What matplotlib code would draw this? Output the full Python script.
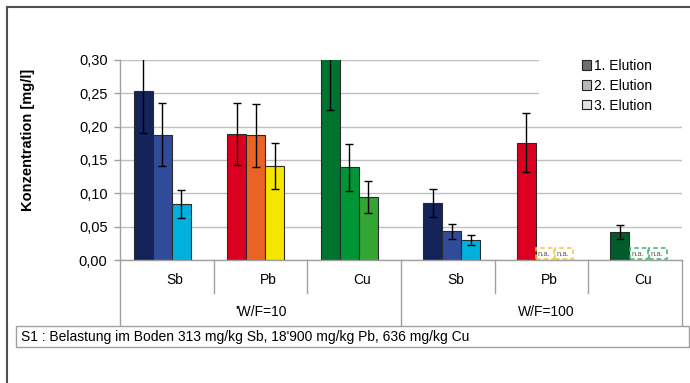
import numpy as np
import matplotlib
matplotlib.use("Agg")
import matplotlib.pyplot as plt
from matplotlib.patches import Rectangle, Patch
from matplotlib.lines import Line2D

plt.rcParams['font.family'] = ['Liberation Sans', 'DejaVu Sans']

# ---- data ----
categories = ["Sb", "Pb", "Cu", "Sb", "Pb", "Cu"]
groups = ["'W/F=10", "W/F=100"]
series = ["1. Elution", "2. Elution", "3. Elution"]
elution1 = [0.254, 0.189, 0.31, 0.085, 0.176, 0.042]
elution2 = [0.188, 0.187, 0.139, 0.043, np.nan, np.nan]
elution3 = [0.0835, 0.141, 0.095, 0.030, np.nan, np.nan]
err1 = [0.064, 0.047, 0.085, 0.021, 0.0445, 0.011]
err2 = [0.047, 0.047, 0.035, 0.011, np.nan, np.nan]
err3 = [0.021, 0.035, 0.024, 0.008, np.nan, np.nan]
yticks = [0.00, 0.05, 0.10, 0.15, 0.20, 0.25, 0.30]
ytick_labels = ["0,00", "0,05", "0,10", "0,15", "0,20", "0,25", "0,30"]
note = "S1 : Belastung im Boden 313 mg/kg Sb, 18'900 mg/kg Pb, 636 mg/kg Cu"

# ---- styles ----
colors1 = ['#142359', '#db0020', '#00742f', '#142359', '#db0020', '#005c2b']
colors2 = ['#2f4b99', '#e96424', '#009537', '#2f4b99', '#f5c342', '#3cb371']
colors3 = ['#00b0df', '#f5e600', '#33a532', '#00b0df', '#f5c342', '#3cb371']
legend_colors = ['#707070', '#b8b8b8', '#e2e2e2']
group_shift = [-0.05, -0.05, -0.05, 0.04, 0.04, 0.04]
na_height = 0.0165

W, H = 690, 383
fig = plt.figure(figsize=(W / 100, H / 100), dpi=100)
L, R, T, B = 120, 682, 60, 260
ax = fig.add_axes([L / W, 1 - B / H, (R - L) / W, (B - T) / H])

n = len(categories)
x = np.arange(n)
bw = 0.203
values = [elution1, elution2, elution3]
errs = [err1, err2, err3]
cols = [colors1, colors2, colors3]

for j in range(3):
    pos = x + np.array(group_shift) + (j - 1) * bw
    v = np.array(values[j], dtype=float)
    e = np.array(errs[j], dtype=float)
    ok = ~np.isnan(v)
    ax.bar(pos[ok], v[ok], width=bw, color=[cols[j][i] for i in range(n) if ok[i]],
           edgecolor='#2a2a2a', linewidth=0.8, zorder=2)
    ax.errorbar(pos[ok], v[ok], yerr=e[ok], fmt='none', ecolor='black',
                elinewidth=1, capsize=3, capthick=1, zorder=3)
    # n.a. placeholders
    for i in np.where(~ok)[0]:
        ax.add_patch(Rectangle((pos[i] - bw / 2 + 0.005, 0.0008), bw - 0.01, na_height,
                               fill=False, edgecolor=cols[j][i], linestyle=(0, (3, 2)),
                               linewidth=1.1, zorder=2))
        ax.text(pos[i] - bw / 2 + 0.02, 0.003, "n.a.", fontsize=5.5, color='#555555',
                ha='left', va='bottom', zorder=3)

ax.set_xlim(-0.5, n - 0.5)
ax.set_ylim(0, 0.30)
ax.set_yticks(yticks)
ax.set_yticklabels(ytick_labels)
ax.set_xticks([])
ax.tick_params(axis='y', length=4, width=1, color='#a0a0a0', pad=5, labelsize=10.5)
ax.set_axisbelow(True)
ax.yaxis.grid(True, color='#c0c0c0', linewidth=1)
for s in ['top', 'right']:
    ax.spines[s].set_visible(False)
for s in ['left', 'bottom']:
    ax.spines[s].set_color('#a0a0a0')
    ax.spines[s].set_linewidth(1)

# legend background
ax.add_patch(Rectangle(((539 - L) / (R - L), 0.72), 1 - (539 - L) / (R - L) + 0.01, 0.35,
                       transform=ax.transAxes, facecolor='white', edgecolor='none',
                       zorder=1, clip_on=False))
handles = [Patch(facecolor=c, edgecolor='#222222', linewidth=0.8) for c in legend_colors]
ax.legend(handles, series, loc='upper left', bbox_to_anchor=(575 / W, 1 - 52 / H),
          bbox_transform=fig.transFigure, frameon=False, fontsize=10,
          handlelength=0.65, handleheight=0.65, handletextpad=0.25,
          labelspacing=0.42, borderpad=0)

# category axis
xt = ax.get_xaxis_transform()
sep_short = -(293 - B) / (B - T)
sep_long = -(326 - B) / (B - T)
for k in range(n + 1):
    ybot = sep_long if k in (0, 3, 6) else sep_short
    ax.plot([k - 0.5, k - 0.5], [0, ybot], transform=xt, color='#a0a0a0',
            linewidth=1, clip_on=False)
for i, c in enumerate(categories):
    ax.text(i + 0.085, -20 / (B - T), c, transform=xt, ha='center', va='center',
            fontsize=10)
for g, lab in enumerate(groups):
    ax.text(3 * g + 1 + 0.05 * g, -52 / (B - T), lab, transform=xt, ha='center',
            va='center', fontsize=10)

fig.text(28 / W, 1 - 140 / H, "Konzentration [mg/l]", rotation=90, ha='center',
         va='center', fontsize=10.5, fontweight='bold')

# note box
fig.add_artist(Rectangle((16 / W, 1 - 347 / H), (689 - 16) / W, 21 / H,
                         transform=fig.transFigure, facecolor='white',
                         edgecolor='#a0a0a0', linewidth=1))
fig.text(21 / W, 1 - 337 / H, note, ha='left', va='center', fontsize=10)

# outer frame
fig.add_artist(Line2D([7 / W, 7 / W], [0, 1 - 7 / H], transform=fig.transFigure,
                      color='#505050', linewidth=1.5))
fig.add_artist(Line2D([7 / W, 1], [1 - 7 / H, 1 - 7 / H], transform=fig.transFigure,
                      color='#505050', linewidth=1.5))

fig.savefig("out.png", dpi=100)
